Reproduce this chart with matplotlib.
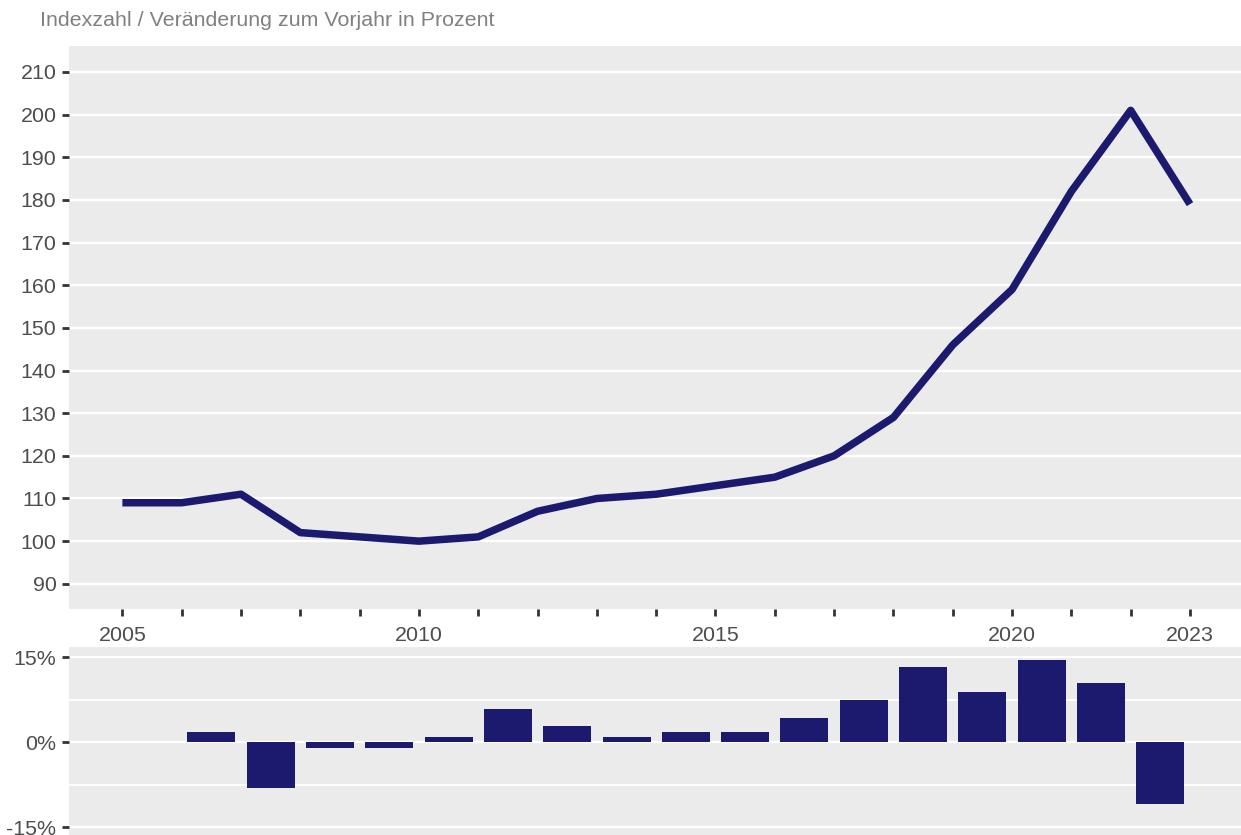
import matplotlib
matplotlib.use("Agg")
import matplotlib.pyplot as plt
from matplotlib.ticker import FixedLocator, FuncFormatter

plt.rcParams['font.family'] = ['Liberation Sans', 'DejaVu Sans']

# data
years = list(range(2005, 2024))
index_values = [109, 109, 111, 102, 101, 100, 101, 107, 110, 111,
                113, 115, 120, 129, 146, 159, 182, 201, 179]
change_years = list(range(2006, 2024))
change_pct = [0.0, 1.8, -8.1, -1.0, -1.0, 1.0, 5.9, 2.8, 0.9, 1.8,
              1.8, 4.3, 7.5, 13.2, 8.9, 14.5, 10.4, -10.9]
xtick_labels = {2005: "2005", 2010: "2010", 2015: "2015", 2020: "2020", 2023: "2023"}
title = "Indexzahl / Veränderung zum Vorjahr in Prozent"

navy = "#1b1a6e"
panel_bg = "#ebebeb"
tick_col = "#4d4d4d"
fs = 15.4

fig = plt.figure(figsize=(12.41, 8.35), dpi=100)

# top panel: index line
ax = fig.add_axes([0.0556, 0.2707, 0.9444, 0.6743])
ax.set_facecolor(panel_bg)
for s in ax.spines.values():
    s.set_visible(False)
ax.plot(years, index_values, color=navy, lw=5.4, solid_capstyle='butt',
        solid_joinstyle='round', zorder=3)
ax.set_xlim(2004.1, 2023.86)
ax.set_ylim(84.1, 216.1)
ax.yaxis.set_major_locator(FixedLocator(range(90, 211, 10)))
ax.xaxis.set_major_locator(FixedLocator(years))
ax.set_xticklabels([xtick_labels.get(y, "") for y in years])
ax.grid(axis='y', color='white', lw=1.6)
ax.grid(axis='x', visible=False)
ax.set_axisbelow(True)
ax.tick_params(axis='both', colors='#333333', labelcolor=tick_col,
               labelsize=fs, length=5, width=2)
ax.tick_params(axis='x', pad=7)
ax.tick_params(axis='y', pad=4)

fig.text(0.032, 0.976, title, color='#808080', fontsize=fs, va='center', ha='left')

# bottom panel: yearly change
bx = fig.add_axes([0.0556, 0.0, 0.9444, 0.225])
bx.set_facecolor(panel_bg)
for s in bx.spines.values():
    s.set_visible(False)
bx.bar(change_years, change_pct, width=0.81, color=navy, zorder=3)
bx.set_xlim(2004.6, 2024.36)
bx.set_ylim(-16.4, 16.8)
bx.yaxis.set_major_locator(FixedLocator([-15, 0, 15]))
bx.yaxis.set_minor_locator(FixedLocator([-7.5, 7.5]))
bx.yaxis.set_major_formatter(FuncFormatter(lambda v, p: f"{v:.0f}%"))
bx.set_xticks([])
bx.grid(axis='y', which='major', color='white', lw=1.6)
bx.grid(axis='y', which='minor', color='white', lw=1.3)
bx.set_axisbelow(True)
bx.tick_params(axis='y', colors='#333333', labelcolor=tick_col,
               labelsize=fs, length=5, width=2, pad=4)
bx.tick_params(axis='y', which='minor', length=0)

fig.savefig("out.png", dpi=100)
